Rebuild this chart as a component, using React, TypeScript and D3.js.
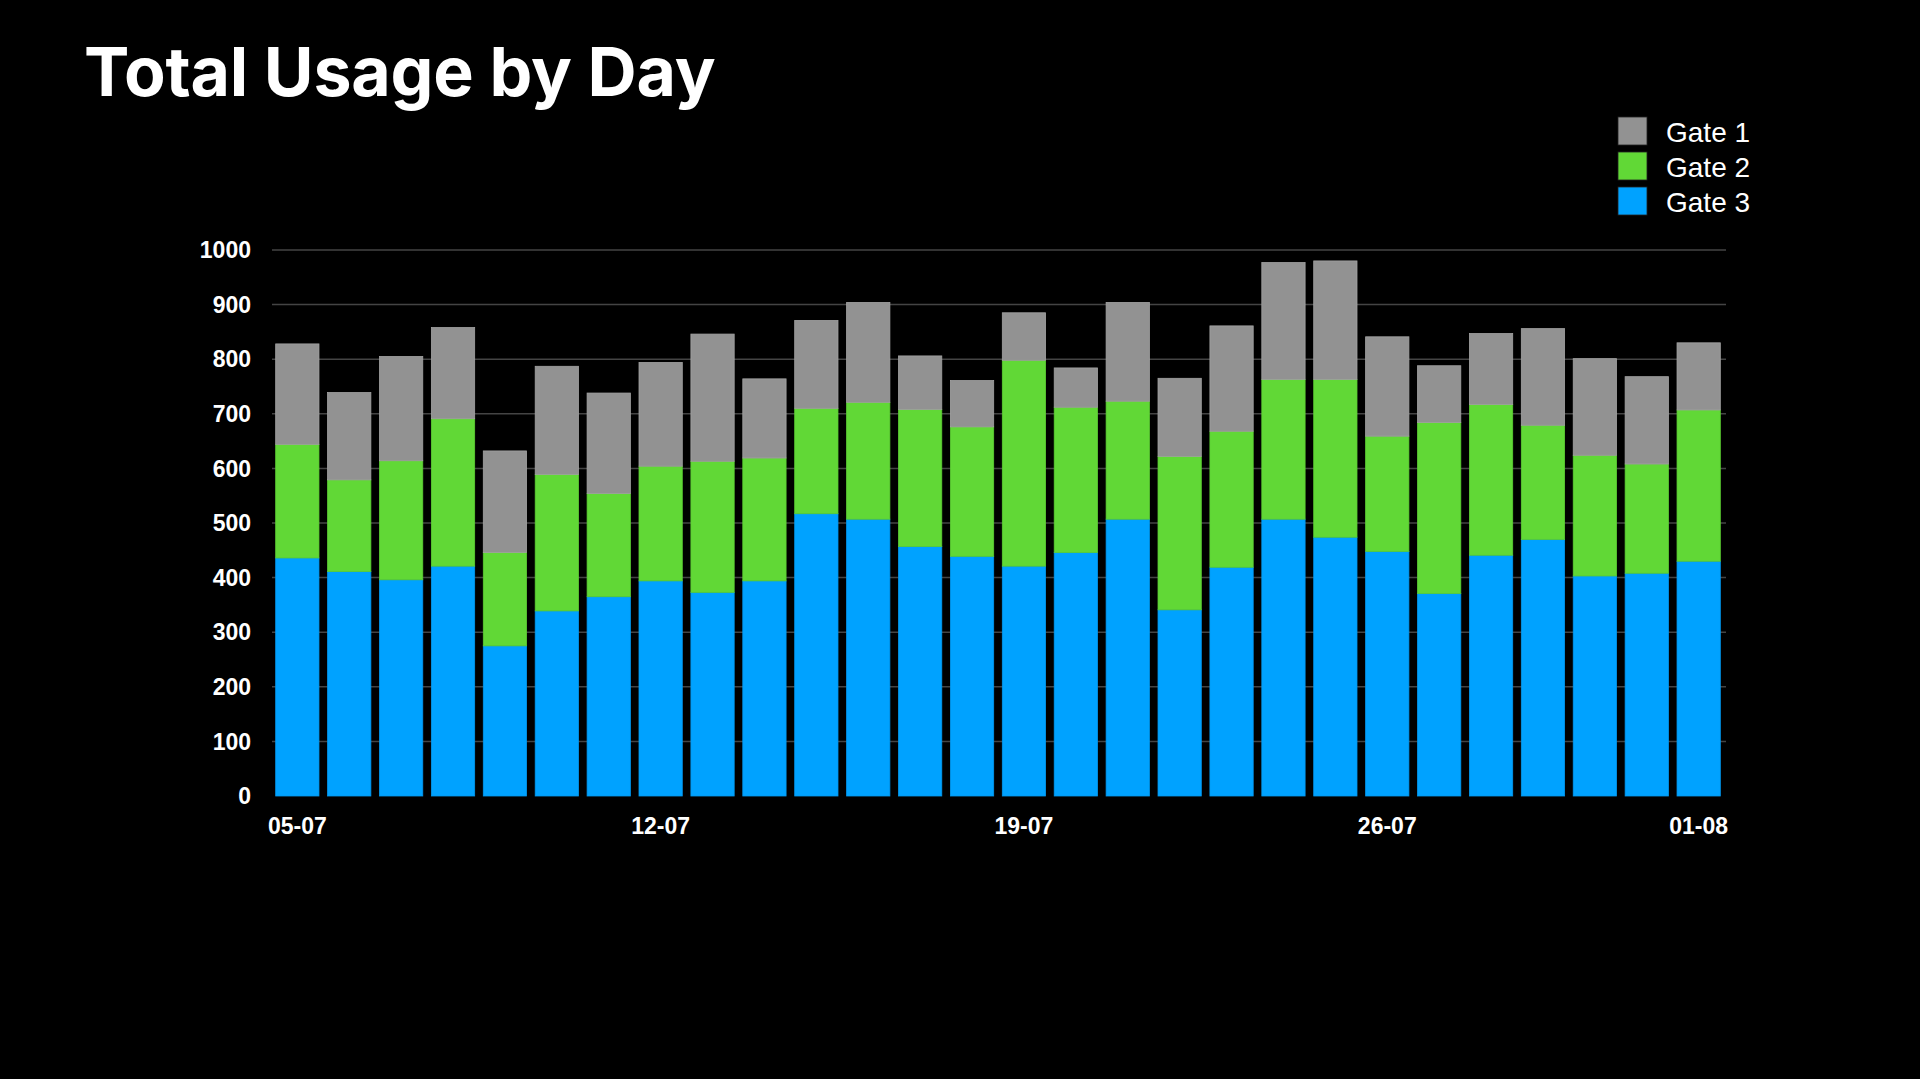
import React, { useEffect } from "react";
import * as d3 from "d3";

const days = [
  "05-07", "06-07", "07-07", "08-07", "09-07", "10-07", "11-07",
  "12-07", "13-07", "14-07", "15-07", "16-07", "17-07", "18-07",
  "19-07", "20-07", "21-07", "22-07", "23-07", "24-07", "25-07",
  "26-07", "27-07", "28-07", "29-07", "30-07", "31-07", "01-08",
];
const tickLabels = ["05-07", "12-07", "19-07", "26-07", "01-08"];
const yTicks = [0, 100, 200, 300, 400, 500, 600, 700, 800, 900, 1000];

const gate3 = [436, 411, 396, 421, 275, 339, 365, 394, 373, 394, 517, 507, 457, 439, 421, 446, 507, 341, 419, 507, 474, 448, 371, 441, 470, 403, 408, 430];
const gate2 = [208, 168, 218, 270, 171, 250, 189, 210, 240, 225, 193, 214, 251, 237, 377, 266, 216, 281, 249, 256, 289, 211, 313, 276, 209, 221, 200, 277];
const gate1 = [184, 160, 191, 167, 186, 198, 184, 190, 233, 145, 161, 183, 98, 85, 87, 72, 181, 143, 193, 214, 217, 182, 104, 130, 177, 177, 160, 123];

const seriesNames = ["Gate 1", "Gate 2", "Gate 3"];
const seriesColors = ["#929292", "#61D836", "#00A2FF"];
const seriesStrokes = ["#a3a3a3", "#5ccf33", "#0098f0"];

const W = 1920;
const H = 1079;
const plot = { left: 272, right: 1726, top: 250, bottom: 796 };

export default function App() {
  useEffect(() => {
    document.body.style.margin = "0";
    document.body.style.background = "#000";
  }, []);

  const x = d3
    .scaleBand<string>()
    .domain(days)
    .range([plot.left, plot.right - 2])
    .paddingInner(0.166)
    .paddingOuter(0.071);
  const y = d3.scaleLinear().domain([0, 1000]).range([plot.bottom, plot.top]);

  const rows = days.map((d, i) => ({
    day: d,
    "Gate 3": gate3[i],
    "Gate 2": gate2[i],
    "Gate 1": gate1[i],
  }));
  const stackOrder = ["Gate 3", "Gate 2", "Gate 1"];
  const stacked = d3.stack<any>().keys(stackOrder)(rows);

  const font = "'Liberation Sans', Arial, Helvetica, sans-serif";

  return (
    <svg
      width={W}
      height={H}
      style={{ position: "absolute", left: 0, top: 0, display: "block", background: "#000" }}
    >
      <rect x={0} y={0} width={W} height={H} fill="#000" />
      <text
        x={84}
        y={96}
        fill="#fff"
        fontFamily="Inter, 'Open Sans', sans-serif"
        fontWeight={700}
        fontSize={68}
        letterSpacing={-0.2}
      >
        Total Usage by Day
      </text>

      {/* gridlines */}
      {yTicks.map((t) =>
        t === 0 ? null : (
          <line
            key={"g" + t}
            x1={plot.left}
            x2={plot.right}
            y1={y(t)}
            y2={y(t)}
            stroke="#444"
            strokeWidth={1.5}
          />
        )
      )}

      {/* y labels */}
      {yTicks.map((t) => (
        <text
          key={"yl" + t}
          x={251}
          y={y(t)}
          dy="0.36em"
          textAnchor="end"
          fill="#fff"
          fontFamily={font}
          fontWeight={700}
          fontSize={23}
        >
          {t}
        </text>
      ))}

      {/* bars */}
      {stacked.map((layer) => {
        const si = seriesNames.indexOf(layer.key as string);
        return (
          <g key={layer.key as string}>
            {layer.map((seg, i) => (
              <rect
                key={i}
                x={x(days[i])}
                width={x.bandwidth()}
                y={y(seg[1])}
                height={y(seg[0]) - y(seg[1])}
                fill={seriesColors[si]}
                stroke={seriesStrokes[si]}
                strokeWidth={0.8}
              />
            ))}
          </g>
        );
      })}

      {/* x labels */}
      {tickLabels.map((d) => (
        <text
          key={"xl" + d}
          x={(x(d) as number) + x.bandwidth() / 2}
          y={834}
          textAnchor="middle"
          fill="#fff"
          fontFamily={font}
          fontWeight={700}
          fontSize={23}
        >
          {d}
        </text>
      ))}

      {/* legend */}
      {seriesNames.map((name, i) => (
        <g key={"lg" + name} transform={`translate(1618, ${117 + i * 35})`}>
          <rect width={29} height={28} fill={seriesColors[i]} stroke="#222" strokeWidth={0.8} />
          <text
            x={48}
            y={24.5}
            fill="#fff"
            fontFamily={font}
            fontWeight={400}
            fontSize={28}
          >
            {name}
          </text>
        </g>
      ))}
    </svg>
  );
}
